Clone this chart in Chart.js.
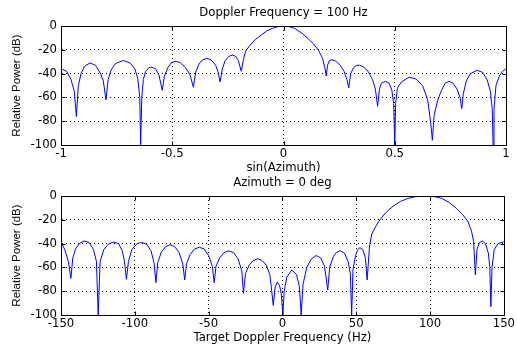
<!DOCTYPE html>
<html>
<head>
<meta charset="utf-8">
<script src="https://cdn.jsdelivr.net/npm/chart.js@4"></script>
<style>
  body { margin: 0; background: #fff; }
  #wrap { position: relative; width: 517px; height: 349px; }
  canvas { position: absolute; left: 0; }
</style>
</head>
<body>
<div id="wrap">
  <canvas id="chartTop" width="517" height="179" style="top:0px"></canvas>
  <canvas id="chartBottom" width="517" height="179" style="top:170px"></canvas>
</div>
<script>
// upper plot: power vs sin(azimuth), doppler = 100 Hz
const azimuth = [
  -1.000, -0.975, -0.955, -0.940, -0.931, -0.922, -0.910, -0.895, -0.870, -0.845,
  -0.825, -0.810, -0.798, -0.788, -0.775, -0.755, -0.720, -0.690, -0.668, -0.655,
  -0.646, -0.642, -0.637, -0.630, -0.620, -0.605, -0.592, -0.575, -0.560, -0.545,
  -0.535, -0.520, -0.505, -0.488, -0.465, -0.440, -0.420, -0.405, -0.395, -0.380,
  -0.365, -0.345, -0.325, -0.305, -0.295, -0.285, -0.275, -0.262, -0.245, -0.230,
  -0.215, -0.203, -0.190, -0.180, -0.170, -0.150, -0.125, -0.100, -0.075, -0.050,
  -0.025, 0, 0.025, 0.050, 0.083, 0.110, 0.135, 0.158, 0.175, 0.186,
  0.192, 0.198, 0.207, 0.218, 0.235, 0.255, 0.272, 0.285, 0.293, 0.302,
  0.315, 0.330, 0.342, 0.360, 0.380, 0.400, 0.413, 0.423, 0.431, 0.440,
  0.458, 0.475, 0.487, 0.495, 0.500, 0.504, 0.512, 0.530, 0.564, 0.595,
  0.625, 0.648, 0.662, 0.669, 0.677, 0.692, 0.710, 0.727, 0.744, 0.762,
  0.780, 0.795, 0.801, 0.808, 0.822, 0.840, 0.871, 0.895, 0.915, 0.930,
  0.938, 0.942, 0.946, 0.955, 0.970, 0.985, 1.000
];
const powerAzimuth = [
  -36, -38, -45, -55, -76, -50, -40, -34, -31, -33,
  -39, -46, -62, -45, -37, -31.5, -29, -31, -36, -44,
  -60, -100, -60, -45, -38, -35, -34.5, -36, -41, -54,
  -42, -35, -31, -29.7, -30.5, -35, -41, -51.5, -39, -32,
  -28.5, -27.2, -28.5, -33, -38, -47, -36, -29, -25.5, -24.4,
  -25.5, -29, -38, -28, -21, -16, -11, -7.5, -4, -2,
  -0.5, 0, -0.5, -2, -6, -10.5, -15, -20.5, -27, -35,
  -42, -33, -29, -28.3, -29.5, -33, -38, -45, -52, -40,
  -35, -33, -33, -34.5, -38, -45, -53, -67.5, -53, -48,
  -46.5, -48, -54, -65, -100, -65, -52, -47, -43, -44.5,
  -50, -62, -82, -96, -75, -63, -54, -48, -46.5, -48,
  -53, -61, -69.5, -57, -46, -40, -37.2, -39, -45, -55,
  -70, -100, -70, -50, -42, -38, -36
];

// lower plot: power vs target doppler, azimuth = 0 deg
const doppler = [
  -150, -147.5, -145, -143.3, -142, -140, -137.5, -134.5, -131, -128,
  -126, -124.8, -123.5, -121, -118, -114.7, -111, -108.5, -107, -105.7,
  -104.3, -102, -99, -95.6, -92, -89, -87, -85.7, -84.5, -82,
  -79, -76.1, -73, -70, -67.5, -66.2, -65, -62.5, -59.5, -56.3,
  -53, -50, -47.5, -46.2, -45, -42.5, -39.5, -36.5, -33, -30,
  -27.5, -26.4, -25, -22.5, -20, -17, -14, -11, -8.5, -6.2,
  -5, -3.5, -2, -0.8, 0.3, 1.2, 3, 6.4, 9.5, 11.5,
  12.7, 14, 16.5, 19.5, 22.8, 26, 28.5, 30.7, 32, 34.5,
  36.5, 39, 42, 44.5, 46, 46.9, 47.8, 49.5, 51, 52.5,
  54.5, 56.2, 57.4, 59, 60.5, 63, 66, 70, 75, 80,
  85, 90, 97, 103, 108, 113, 118, 122, 125.5, 128,
  129.5, 130.7, 131.8, 133.5, 135.6, 137.5, 139.5, 140.5, 141.2, 142,
  143.5, 146, 150
];
const powerDoppler = [
  -38.4, -45, -55, -69.2, -52, -44, -40, -37.8, -39, -45,
  -55, -100, -55, -45, -40.5, -38.7, -40, -46, -55, -70,
  -55, -45, -40.5, -38.9, -40.5, -46, -56, -72.8, -56, -47,
  -42.5, -40.9, -42.5, -47.5, -57, -70.6, -57, -49, -44.5, -43.1,
  -44.5, -50, -59, -72.8, -59, -52, -47.5, -46.2, -47.5, -53,
  -63, -81.8, -65, -58, -54.5, -52.7, -54, -58, -66, -91.9,
  -77, -72.3, -75, -82, -100, -80, -68, -62.2, -66, -76,
  -100, -74, -60, -53, -50, -52, -59, -79, -60, -51,
  -47.5, -45.9, -48, -55, -65, -100, -62, -50, -45, -43.4,
  -45, -52, -70.6, -42, -32, -26, -20, -14, -8.5, -4.5,
  -2, -0.6, 0, -0.5, -2, -5.5, -10.5, -15.5, -21, -29,
  -38, -66.4, -45, -39, -37.8, -40, -48, -60, -93, -60,
  -45, -40, -38.4
];

const azimuthTicks = [-1, -0.5, 0, 0.5, 1];
const dopplerTicks = [-150, -100, -50, 0, 50, 100, 150];
const powerTicks = [-100, -80, -60, -40, -20, 0];

const textFont = { family: "'DejaVu Sans', sans-serif", size: 11.7 };
const yTitleFont = { family: "'Liberation Sans', Arial, sans-serif", size: 11.5 };

// box around the plot with inward tick marks, matlab style
const axesBox = {
  id: 'axesBox',
  afterDatasetsDraw(chart) {
    const { ctx, chartArea: a, scales } = chart;
    const l = Math.round(a.left) + 0.5, r = Math.round(a.right) + 0.5;
    const t = Math.round(a.top) + 0.5, b = Math.round(a.bottom) + 0.5;
    ctx.save();
    ctx.strokeStyle = '#000';
    ctx.lineWidth = 1;
    ctx.setLineDash([]);
    ctx.strokeRect(l, t, r - l, b - t);
    ctx.beginPath();
    scales.x.ticks.forEach(tk => {
      const px = Math.round(scales.x.getPixelForValue(tk.value)) + 0.5;
      ctx.moveTo(px, b); ctx.lineTo(px, b - 4);
      ctx.moveTo(px, t); ctx.lineTo(px, t + 4);
    });
    scales.y.ticks.forEach(tk => {
      const py = Math.round(scales.y.getPixelForValue(tk.value)) + 0.5;
      ctx.moveTo(l, py); ctx.lineTo(l + 4, py);
      ctx.moveTo(r, py); ctx.lineTo(r - 4, py);
    });
    ctx.stroke();
    ctx.restore();
  }
};

function makeChart(id, xs, ys, xTicks, title, xTitle) {
  const points = xs.map((v, i) => ({ x: v, y: ys[i] }));
  const xMin = xTicks[0], xMax = xTicks[xTicks.length - 1];
  const edgeColor = (min, max) => c =>
    (c.tick && (c.tick.value === min || c.tick.value === max)) ? 'rgba(0,0,0,0)' : '#000';

  return new Chart(document.getElementById(id), {
    type: 'line',
    data: {
      datasets: [{
        data: points,
        borderColor: '#0000ff',
        borderWidth: 1,
        pointRadius: 0,
        tension: 0,
        fill: false
      }]
    },
    options: {
      responsive: false,
      animation: false,
      devicePixelRatio: 1,
      layout: { padding: { left: 0, right: 11, top: 0, bottom: 0 } },
      plugins: {
        legend: { display: false },
        tooltip: { enabled: false },
        title: {
          display: true,
          fullSize: false,
          text: title,
          color: '#000',
          font: { ...textFont, weight: 'normal' },
          padding: { top: 6, bottom: 6 }
        }
      },
      scales: {
        x: {
          type: 'linear',
          min: xMin,
          max: xMax,
          afterBuildTicks: s => { s.ticks = xTicks.map(v => ({ value: v })); },
          afterFit: s => { s.height = 34; },
          ticks: { color: '#000', font: textFont, padding: 2, maxRotation: 0, callback: v => String(v) },
          grid: { color: edgeColor(xMin, xMax), lineWidth: 1, drawTicks: false },
          border: { display: true, color: '#000', dash: [1, 3] },
          title: { display: true, text: xTitle, color: '#000', font: textFont, padding: { top: 0, bottom: 4 } }
        },
        y: {
          min: -100,
          max: 0,
          afterBuildTicks: s => { s.ticks = powerTicks.map(v => ({ value: v })); },
          afterFit: s => { s.width = 61; },
          ticks: { color: '#000', font: textFont, padding: 4, callback: v => String(v) },
          grid: { color: edgeColor(-100, 0), lineWidth: 1, drawTicks: false },
          border: { display: true, color: '#000', dash: [1, 3] },
          title: { display: true, text: 'Relative Power (dB)', color: '#000', font: yTitleFont, padding: { top: 10.4, bottom: 0 } }
        }
      }
    },
    plugins: [axesBox]
  });
}

makeChart('chartTop', azimuth, powerAzimuth, azimuthTicks, 'Doppler Frequency = 100 Hz', 'sin(Azimuth)');
makeChart('chartBottom', doppler, powerDoppler, dopplerTicks, 'Azimuth = 0 deg', 'Target Doppler Frequency (Hz)');
</script>
</body>
</html>
